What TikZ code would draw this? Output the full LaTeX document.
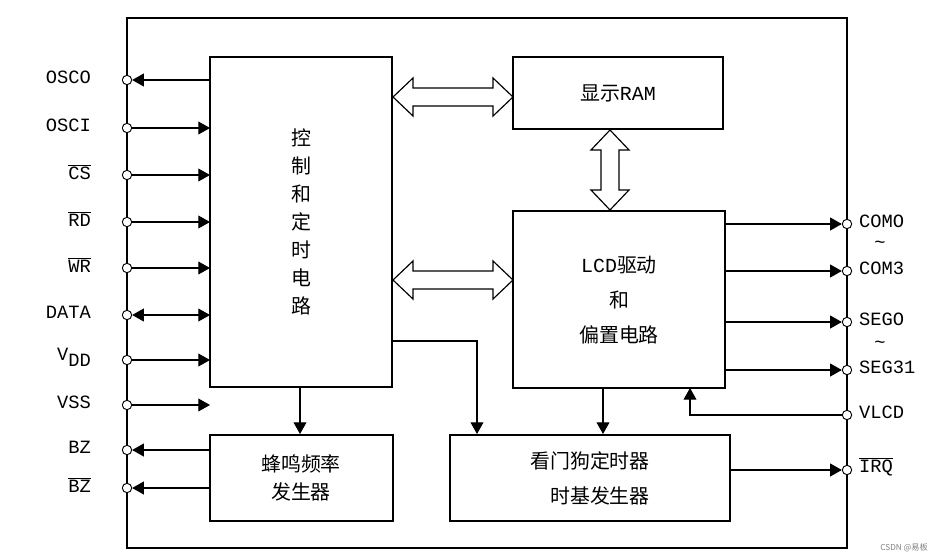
\documentclass[tikz,border=0pt]{standalone}
\usepackage{fontspec}
\setmonofont{Liberation Mono}
\newfontfamily\cjk{Noto Sans CJK SC}
\usetikzlibrary{arrows.meta,calc}
\tikzset{>={Triangle[length=10pt,width=11pt]},
  pin/.style={circle,draw,fill=white,inner sep=0pt,minimum size=8pt,line width=0.8pt},
  lbl/.style={font=\fontsize{16}{18}\selectfont\ttfamily},
  zh/.style={font=\fontsize{17}{24}\selectfont\cjk,align=center},
  wire/.style={line width=1pt},
  hollow/.style={draw,fill=white,line width=1pt}}
\newcommand{\hollowH}[3]{% x1, x2, y
  \path[hollow] (#1,#3) -- ++(20,-19) -- ++(0,10) -- ($(#2,#3)+(-20,-9)$) -- ++(0,-10)
    -- (#2,#3) -- ++(-20,19) -- ++(0,-10) -- ($(#1,#3)+(20,9)$) -- ++(0,10) -- cycle;}
\begin{document}
\begin{tikzpicture}[x=0.03cm,y=-0.03cm]
        \useasboundingbox (0,0) rectangle (935,559);
        \draw[line width=1.5pt] (127,18) rectangle (847,548);
        % blocks
        \draw[line width=1.2pt] (210,57) rectangle (392,387);
        \node[zh] (ctrl) at (301,222) {控\\制\\和\\定\\时\\电\\路};
        \draw[line width=1.2pt] (513,57) rectangle (723,129);
        \node[zh] (ram) at (618,93) {显示{\ttfamily RAM}};
        \draw[line width=1.2pt] (513,211) rectangle (725,388);
        \node[zh,font=\fontsize{17}{30}\selectfont\cjk] (lcd) at (619,300) {{\ttfamily LCD}驱动\\和\\偏置电路};
        \draw[line width=1.2pt] (210,435) rectangle (393,521);
        \node[zh] (bz) at (301,478) {蜂鸣频率\\发生器};
        \draw[line width=1.2pt] (450,435) rectangle (730,521);
        \node[zh,font=\fontsize{17}{30}\selectfont\cjk] (wdt) at (590,478) {看门狗定时器\\\hspace{1em}时基发生器};
        % hollow buses
        \hollowH{393}{513}{97}
        \hollowH{393}{513}{280}
        \path[hollow] (610,130) -- ++(-19,20) -- ++(10,0) -- (601,190) -- ++(-10,0) -- (610,210)
          -- ++(19,-20) -- ++(-10,0) -- (619,150) -- ++(10,0) -- cycle;
        % left pins
        \foreach \y/\n/\t in {80/osco/OSCO,128/osci/OSCI,175/cs/$\overline{\mbox{CS}}$,
            222/rd/$\overline{\mbox{RD}}$,268/wr/$\overline{\mbox{WR}}$,315/data/DATA,
            360/vdd/V\raisebox{-5pt}{DD},405/vss/VSS,450/bza/BZ,488/bzb/$\overline{\mbox{BZ}}$}{
          \coordinate (\n-e) at (210,\y);
          \node[pin] (\n) at (127,\y) {};
          \node[lbl,anchor=east] at (95,\y-3) {\t};
        }
        \foreach \n in {osci,cs,rd,wr,vdd,vss}
          \draw[wire,->] (\n) -- (\n-e);
        \foreach \n in {osco,bza,bzb}
          \draw[wire,->] (\n-e) -- (\n);
        \draw[wire,<->] (data) -- (data-e);
        % right pins
        \foreach \y/\n/\t in {224/com0/COMO,271/com3/COM3,322/seg0/SEGO,370/seg31/SEG31,
            415/vlcd/VLCD,470/irq/$\overline{\mbox{IRQ}}$}{
          \node[pin] (\n) at (847,\y) {};
          \node[lbl,anchor=west] (\n-l) at (855,\y-3) {\t};
        }
        \node[lbl] at (880,245) {\char`\~};
        \node[lbl] at (880,345) {\char`\~};
        \foreach \y/\n in {224/com0,271/com3,322/seg0,370/seg31}
          \draw[wire,->] (725,\y) -- (\n);
        \draw[wire,->] (730,470) -- (irq);
        \draw[wire,->] (vlcd) -| (690,388);
        % internal arrows
        \draw[wire,->] (300,387) -- (300,434);
        \draw[wire,->] (603,388) -- (603,434);
        \draw[wire,->] (392,341) -| (477,434);
        \node[font=\fontsize{7}{8}\selectfont\cjk,text=gray,anchor=east] at (932,548) {CSDN @易板};
\end{tikzpicture}
\end{document}
